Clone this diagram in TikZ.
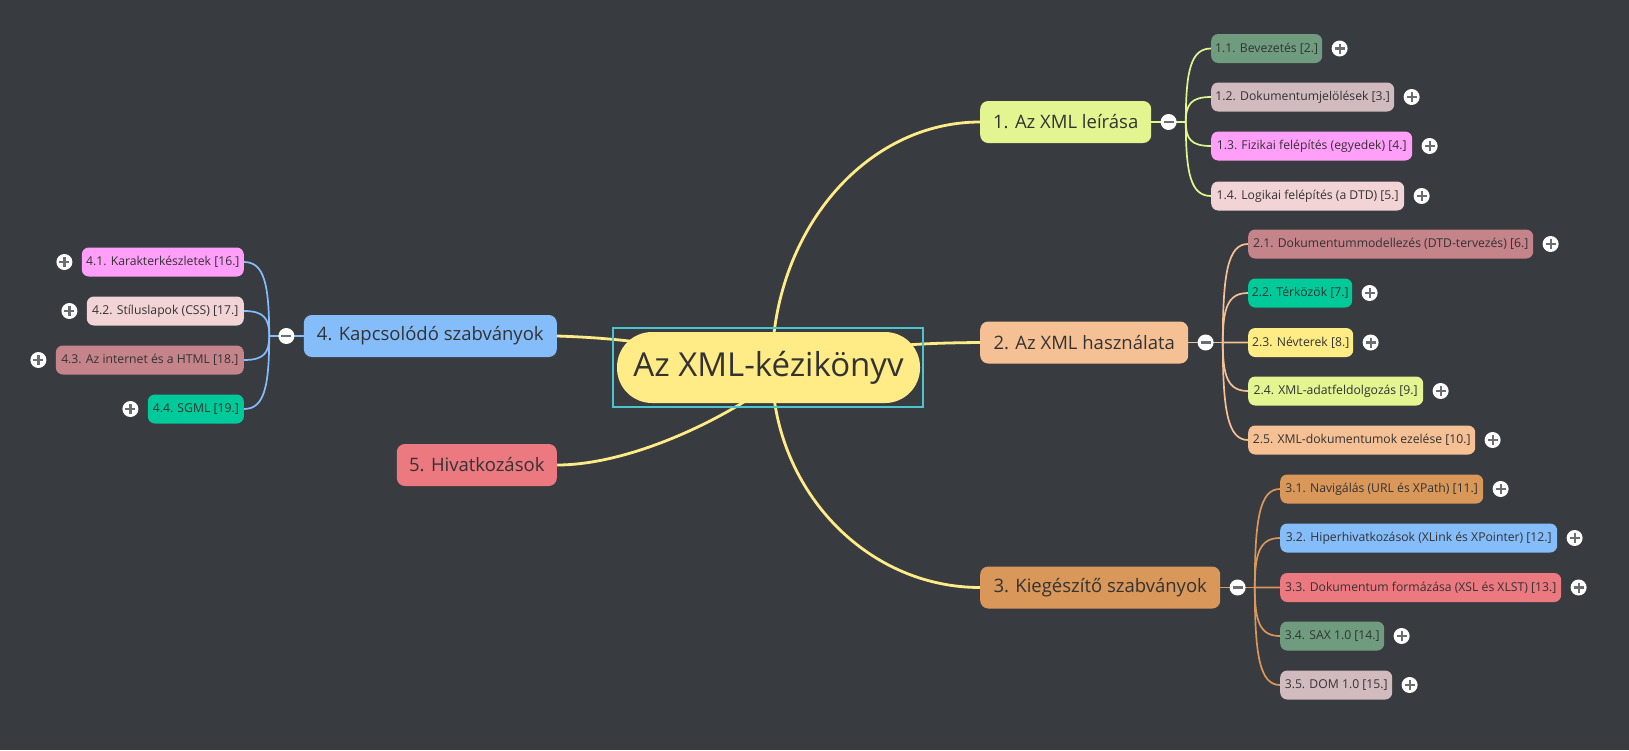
\documentclass[tikz,border=0pt]{standalone}
\usepackage{fontspec}
\setmainfont{Open Sans}
\usetikzlibrary{positioning,calc}

\definecolor{canvas}{HTML}{383B40}
\definecolor{ink}{HTML}{333333}
\definecolor{trunk}{HTML}{FFEC86}
\definecolor{frame}{HTML}{4BC4CC}
\definecolor{lime}{HTML}{E2F591}
\definecolor{peach}{HTML}{F5C194}
\definecolor{tan}{HTML}{D9975A}
\definecolor{sky}{HTML}{85BDFB}
\definecolor{coral}{HTML}{EC7880}
\definecolor{sage}{HTML}{6F9C7E}
\definecolor{mauve}{HTML}{D2BBBE}
\definecolor{orchid}{HTML}{FF9FF9}
\definecolor{blush}{HTML}{F2D3D6}
\definecolor{rose}{HTML}{C5838A}
\definecolor{jade}{HTML}{00C99A}
\definecolor{lemon}{HTML}{FFEC84}
\definecolor{signgray}{HTML}{6A6D73}

\pgfdeclarelayer{bg}
\pgfdeclarelayer{links}
\pgfsetlayers{bg,links,main}

\tikzset{
  topic/.style={rounded corners=8pt, minimum height=42pt, inner xsep=4pt, text=ink,
    font=\fontsize{18.5}{22}\selectfont},
  sub/.style={rounded corners=7pt, minimum height=29pt, inner xsep=2pt, text=ink,
    font=\fontsize{12.2}{14}\selectfont},
  sign/.style={draw=signgray, line width=2.2pt},
  btn/.style={circle, fill=white, minimum size=16pt, inner sep=0pt},
  minusbtn/.style={btn, path picture={
    \draw[sign] ([xshift=-5pt]path picture bounding box.center) -- ([xshift=5pt]path picture bounding box.center);}},
  plusbtn/.style={btn, path picture={
    \draw[sign] ([xshift=-5pt]path picture bounding box.center) -- ([xshift=5pt]path picture bounding box.center)
      ([yshift=-5pt]path picture bounding box.center) -- ([yshift=5pt]path picture bounding box.center);}},
  twig/.style={to path={.. controls ($(\tikztostart|-\tikztotarget)!0.3!(\tikztostart)$)
    and ($(\tikztostart|-\tikztotarget)!0.2!(\tikztotarget)$) .. (\tikztotarget)}},
}

\begin{document}
\begin{tikzpicture}[x=1pt,y=-1pt,
  bough/.style={draw=trunk, line width=2.8pt},
  link/.style={line width=1.7pt}]
  \useasboundingbox (0,0) rectangle (1629,750);
  \begin{pgfonlayer}{bg}
    \fill[canvas] (0,0) rectangle (1629,750);
  \end{pgfonlayer}

  % central topic
  \node[fill=trunk, rounded corners=35pt, minimum width=303pt, minimum height=71pt, text=ink,
    font=\fontsize{33}{40}\selectfont] (root) at (768.5,367.5) {Az XML-kézikönyv};
  \draw[frame, line width=1.6pt] ([shift={(-4,4)}]root.south west) rectangle ([shift={(3,-4)}]root.north east);

  % main topics
  \node[topic, fill=lime, minimum width=171pt, anchor=west] (t1) at (980,122) {1. Az XML leírása};
  \node[topic, fill=peach, minimum width=208pt, anchor=west] (t2) at (980,342.5) {2. Az XML használata};
  \node[topic, fill=tan, minimum width=240pt, anchor=west] (t3) at (980,587.5) {3. Kiegészítő szabványok};
  \node[topic, fill=sky, minimum width=253pt, anchor=east] (t4) at (557,336) {4. Kapcsolódó szabványok};
  \node[topic, fill=coral, minimum width=160pt, anchor=east] (t5) at (557,465) {5. Hivatkozások};

  % subtopics
  \node[sub, fill=sage, minimum width=111pt, anchor=west] (s11) at (1211,48.5) {1.1. Bevezetés [2.]};
  \node[sub, fill=mauve, minimum width=183pt, anchor=west] (s12) at (1211,97) {1.2. Dokumentumjelölések [3.]};
  \node[sub, fill=orchid, minimum width=201pt, anchor=west] (s13) at (1211,146) {1.3. Fizikai felépítés (egyedek) [4.]};
  \node[sub, fill=blush, minimum width=193pt, anchor=west] (s14) at (1211,196) {1.4. Logikai felépítés (a DTD) [5.]};

  \node[sub, fill=rose, minimum width=285pt, anchor=west] (s21) at (1248,244) {2.1. Dokumentummodellezés (DTD-tervezés) [6.]};
  \node[sub, fill=jade, minimum width=104pt, anchor=west] (s22) at (1248,293) {2.2. Térközök [7.]};
  \node[sub, fill=lemon, minimum width=105pt, anchor=west] (s23) at (1248,342.5) {2.3. Névterek [8.]};
  \node[sub, fill=lime, minimum width=175pt, anchor=west] (s24) at (1248,391) {2.4. XML-adatfeldolgozás [9.]};
  \node[sub, fill=peach, minimum width=227pt, anchor=west] (s25) at (1248,440) {2.5. XML-dokumentumok ezelése [10.]};

  \node[sub, fill=tan, minimum width=203pt, anchor=west] (s31) at (1280,489) {3.1. Navigálás (URL és XPath) [11.]};
  \node[sub, fill=sky, minimum width=277pt, anchor=west] (s32) at (1280,538) {3.2. Hiperhivatkozások (XLink és XPointer) [12.]};
  \node[sub, fill=coral, minimum width=281pt, anchor=west] (s33) at (1280,587.5) {3.3. Dokumentum formázása (XSL és XLST) [13.]};
  \node[sub, fill=sage, minimum width=104pt, anchor=west] (s34) at (1280,636) {3.4. SAX 1.0 [14.]};
  \node[sub, fill=mauve, minimum width=112pt, anchor=west] (s35) at (1280,685) {3.5. DOM 1.0 [15.]};

  \node[sub, fill=orchid, minimum width=162pt, anchor=east] (s41) at (244,262) {4.1. Karakterkészletek [16.]};
  \node[sub, fill=blush, minimum width=157pt, anchor=east] (s42) at (244,311) {4.2. Stíluslapok (CSS) [17.]};
  \node[sub, fill=rose, minimum width=188pt, anchor=east] (s43) at (244,360) {4.3. Az internet és a HTML [18.]};
  \node[sub, fill=jade, minimum width=96pt, anchor=east] (s44) at (244,409) {4.4. SGML [19.]};

  % collapse buttons and branch points
  \node[minusbtn, right=9pt of t1] (m1) {};
  \node[minusbtn, right=9pt of t2] (m2) {};
  \node[minusbtn, right=9pt of t3] (m3) {};
  \node[minusbtn, left=9pt of t4] (m4) {};
  \coordinate[right=9pt of m1] (o1);
  \coordinate[right=9pt of m2] (o2);
  \coordinate[right=9pt of m3] (o3);
  \coordinate[left=9pt of m4] (o4);

  % expand buttons
  \foreach \s in {s11,s12,s13,s14,s21,s22,s23,s24,s25,s31,s32,s33,s34,s35}
    \node[plusbtn, right=9pt of \s] (p\s) {};
  \foreach \s in {s41,s42,s43,s44}
    \node[plusbtn, left=9pt of \s] (p\s) {};

  \begin{pgfonlayer}{links}
    % central links
    \draw[bough] ([xshift=3.5pt]root.center) .. controls (772,232) and (865,122) .. (t1.west);
    \draw[bough] (root.center) .. controls (860,345) and (920,343) .. (t2.west);
    \draw[bough] ([xshift=3.5pt]root.center) .. controls (772,488) and (865,587.5) .. (t3.west);
    \draw[bough] (root.center) .. controls (680,345) and (620,338) .. (t4.east);
    \draw[bough] ([shift={(-14,-8)}]root.south) .. controls (700,431) and (620,465) .. (t5.east);
    % branch links
    \draw[link, lime] (t1.east) -- (o1);
    \foreach \s in {s11,s12,s13,s14}
      \draw[link, lime] (o1) to[twig] (\s.west);
    \draw[link, peach] (t2.east) -- (o2);
    \foreach \s in {s21,s22,s23,s24,s25}
      \draw[link, peach] (o2) to[twig] (\s.west);
    \draw[link, tan] (t3.east) -- (o3);
    \foreach \s in {s31,s32,s33,s34,s35}
      \draw[link, tan] (o3) to[twig] (\s.west);
    \draw[link, sky] (t4.west) -- (o4);
    \foreach \s in {s41,s42,s43,s44}
      \draw[link, sky] (o4) to[twig] (\s.east);
  \end{pgfonlayer}
\end{tikzpicture}
\end{document}
